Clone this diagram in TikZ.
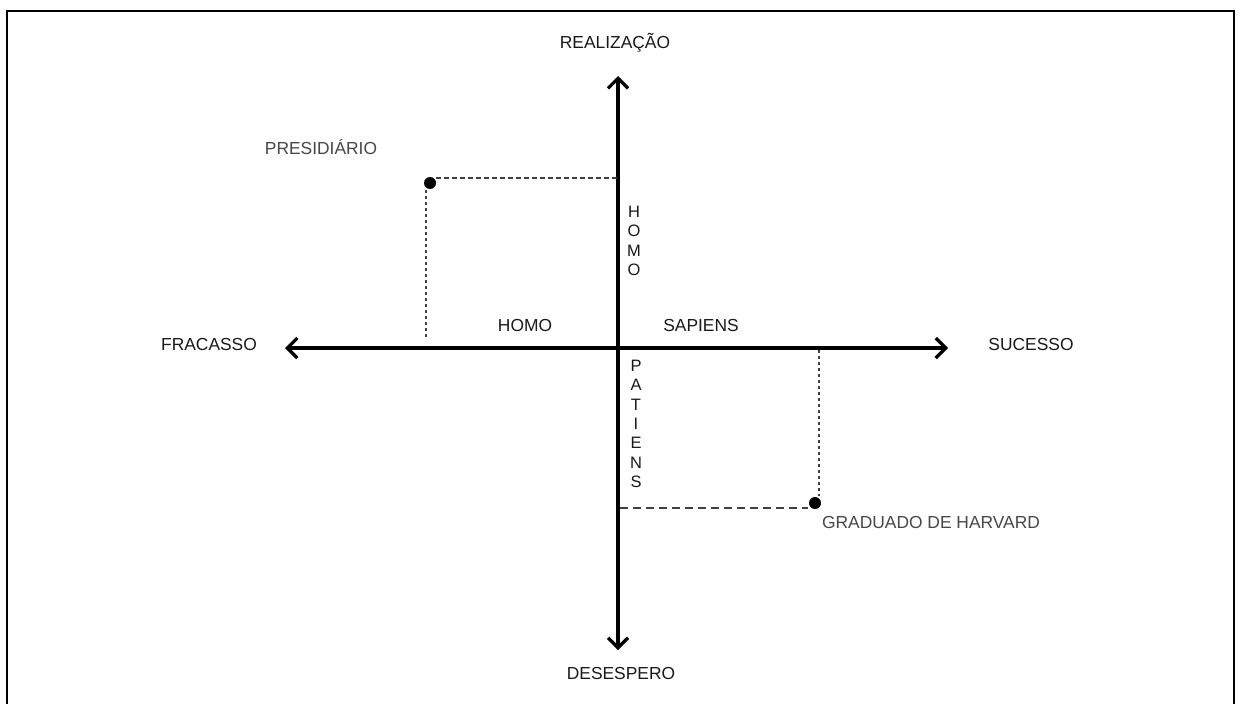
\documentclass[tikz,border=0pt]{standalone}
\usepackage{fontspec}
\setmainfont{Liberation Sans}
\usetikzlibrary{arrows.meta}
\begin{document}
\begin{tikzpicture}[x=1pt,y=-1pt,
  lbl/.style={text=black!90,font=\fontsize{17.4}{19}\selectfont,inner sep=0pt,anchor=center},
  glbl/.style={text=black!72,font=\fontsize{17.4}{19}\selectfont,inner sep=0pt,anchor=center},
  vlbl/.style={text=black!90,font=\fontsize{16.5}{19.3}\selectfont,inner sep=0pt,align=center,anchor=north},
  axis/.style={line width=3.2pt,-{Straight Barb[length=10pt,width=20pt,line width=3.2pt]}},
  dotm/.style={circle,fill=black,inner sep=0pt,minimum size=12pt},
  dashA/.style={line width=1.2pt,black!75,dash pattern=on 5pt off 3pt},
  dashB/.style={line width=1.2pt,black!75,dash pattern=on 8pt off 5pt},
  dotted3/.style={line width=1.2pt,black!75,dash pattern=on 3pt off 3pt}]
\useasboundingbox (0,0) rectangle (1237,704);
\draw[line width=2pt] (7,704) -- (7,11) -- (1234,11) -- (1234,704);
% axes
\coordinate (O) at (618,348);
\coordinate (T) at (618,76);
\coordinate (B) at (618,650);
\coordinate (L) at (285,348);
\coordinate (R) at (948,348);
\draw[axis] (O) -- (T);
\draw[axis] (O) -- (B);
\draw[axis] (O) -- (L);
\draw[axis] (O) -- (R);
% labels
\node[lbl] (real) at (615,43) {REALIZAÇÃO};
\node[lbl] (frac) at (209,345) {FRACASSO};
\node[lbl] (suc) at (1031,345) {SUCESSO};
\node[lbl] (des) at (621,674) {DESESPERO};
\node[lbl] (homoh) at (525,326) {HOMO};
\node[lbl] (sap) at (701,326) {SAPIENS};
\node[vlbl] (homov) at (634,206) {H\\O\\M\\O};
\node[vlbl] (pat) at (636,360) {P\\A\\T\\I\\E\\N\\S};
% presidiario
\node[glbl] (pres) at (321,147) {PRESIDIÁRIO};
\node[dotm] (pdot) at (430,183) {};
\coordinate (p1) at (436,178);
\coordinate (p2) at (618,178);
\coordinate (p3) at (426,190);
\coordinate (p4) at (426,338);
\draw[dashA] (p1) -- (p2);
\draw[dotted3] (p3) -- (p4);
% graduado
\node[glbl] (grad) at (931,523) {GRADUADO DE HARVARD};
\node[dotm] (gdot) at (815,503) {};
\coordinate (g1) at (620,508);
\coordinate (g2) at (808,508);
\coordinate (g3) at (819,350);
\coordinate (g4) at (819,496);
\draw[dashB] (g1) -- (g2);
\draw[dotted3] (g3) -- (g4);
\end{tikzpicture}
\end{document}
